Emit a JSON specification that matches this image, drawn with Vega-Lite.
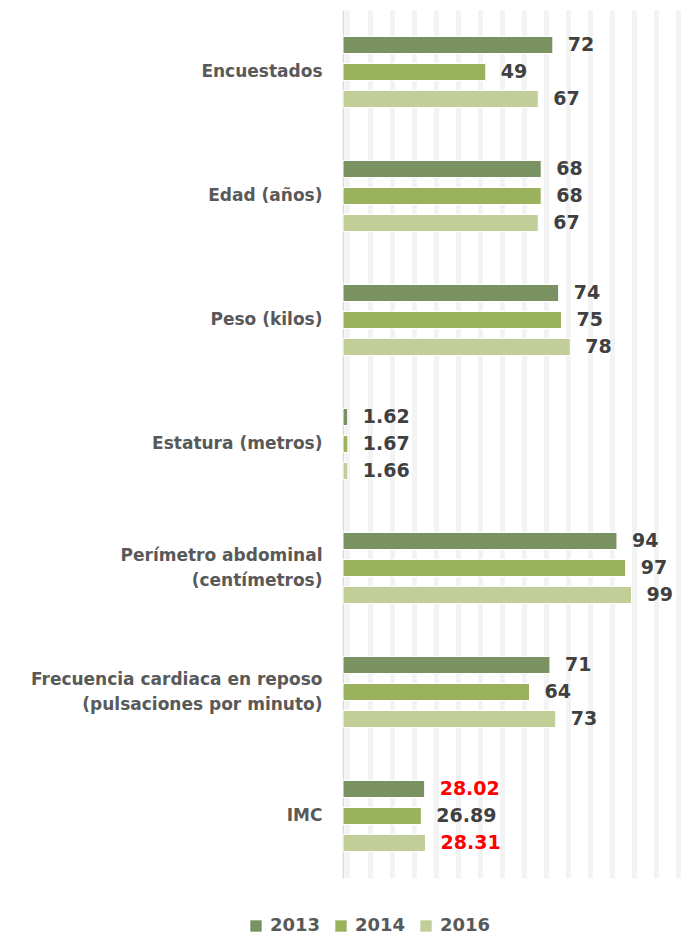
{
  "$schema": "https://vega.github.io/schema/vega-lite/v6.json",
  "width": 341,
  "height": 868,
  "autosize": {"type": "none"},
  "padding": {"left": 343, "top": 10, "right": 0, "bottom": 58},
  "background": "white",
  "config": {"view": {"stroke": null}, "font": "DejaVu Sans"},
  "data": {
    "values": [
      {"cat": "Encuestados", "year": "2013", "value": 72},
      {"cat": "Encuestados", "year": "2014", "value": 49},
      {"cat": "Encuestados", "year": "2016", "value": 67},
      {"cat": "Edad (años)", "year": "2013", "value": 68},
      {"cat": "Edad (años)", "year": "2014", "value": 68},
      {"cat": "Edad (años)", "year": "2016", "value": 67},
      {"cat": "Peso (kilos)", "year": "2013", "value": 74},
      {"cat": "Peso (kilos)", "year": "2014", "value": 75},
      {"cat": "Peso (kilos)", "year": "2016", "value": 78},
      {"cat": "Estatura (metros)", "year": "2013", "value": 1.62},
      {"cat": "Estatura (metros)", "year": "2014", "value": 1.67},
      {"cat": "Estatura (metros)", "year": "2016", "value": 1.66},
      {"cat": "Perímetro abdominal (centímetros)", "year": "2013", "value": 94},
      {"cat": "Perímetro abdominal (centímetros)", "year": "2014", "value": 97},
      {"cat": "Perímetro abdominal (centímetros)", "year": "2016", "value": 99},
      {"cat": "Frecuencia cardiaca en reposo (pulsaciones por minuto)", "year": "2013", "value": 71},
      {"cat": "Frecuencia cardiaca en reposo (pulsaciones por minuto)", "year": "2014", "value": 64},
      {"cat": "Frecuencia cardiaca en reposo (pulsaciones por minuto)", "year": "2016", "value": 73},
      {"cat": "IMC", "year": "2013", "value": 28.02},
      {"cat": "IMC", "year": "2014", "value": 26.89},
      {"cat": "IMC", "year": "2016", "value": 28.31}
    ]
  },
  "encoding": {
    "y": {
      "field": "cat",
      "type": "nominal",
      "sort": null,
      "scale": {"paddingInner": 0, "paddingOuter": 0},
      "axis": {
        "title": null,
        "ticks": false,
        "tickSize": 0,
        "labelPadding": 21,
        "labelFont": "DejaVu Sans",
        "labelFontWeight": "bold",
        "labelFontSize": 17,
        "labelColor": "#595959",
        "labelLimit": 400,
        "labelLineHeight": 25,
        "labelExpr": "length(datum.value) > 20 ? split(replace(datum.value, ' (', '|('), '|') : datum.value",
        "labelOffset": {"condition": {"test": "length(datum.value) > 20", "value": -12}, "value": 0},
        "domainColor": "#d9d9d9",
        "domainWidth": 1.5
      }
    },
    "yOffset": {
      "field": "year",
      "type": "nominal",
      "scale": {"paddingInner": 0.37, "paddingOuter": 0.98}
    },
    "x": {
      "field": "value",
      "type": "quantitative",
      "scale": {"domain": [0, 117], "nice": false},
      "axis": {
        "title": null,
        "labels": false,
        "ticks": false,
        "domain": false,
        "grid": true,
        "gridColor": "#f3f3f3",
        "gridWidth": 5,
        "values": [1.5, 9.1, 16.7, 24.2, 31.8, 39.3, 46.9, 54.5, 62.0, 69.6, 77.1, 84.7, 92.3, 99.8, 107.4, 114.9]
      }
    }
  },
  "layer": [
    {
      "mark": {"type": "bar", "stroke": "white", "strokeWidth": 1},
      "encoding": {
        "color": {
          "field": "year",
          "type": "nominal",
          "scale": {"domain": ["2013", "2014", "2016"], "range": ["#7a9262", "#9bb25d", "#c1ce98"]},
          "legend": {
            "title": null,
            "orient": "none",
            "direction": "horizontal",
            "legendX": -96,
            "legendY": 907,
            "symbolType": "square",
            "symbolSize": 130,
            "symbolStrokeWidth": 0,
            "labelFont": "DejaVu Sans",
            "labelFontWeight": "bold",
            "labelFontSize": 18,
            "labelColor": "#595959",
            "labelOffset": 5,
            "columnPadding": 11
          }
        }
      }
    },
    {
      "mark": {"type": "text", "align": "left", "baseline": "middle", "dx": 15, "fontSize": 19, "fontWeight": "bold", "font": "DejaVu Sans"},
      "encoding": {
        "text": {"field": "value", "type": "nominal"},
        "color": {
          "condition": {"test": "datum.cat == 'IMC' && datum.year != '2014'", "value": "#ff0000"},
          "value": "#404040"
        }
      }
    }
  ]
}
